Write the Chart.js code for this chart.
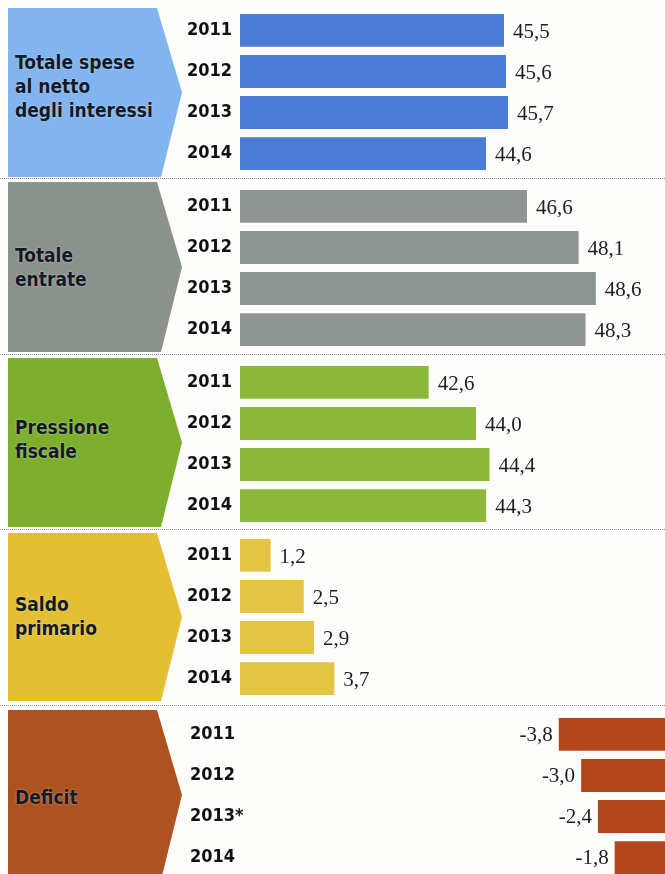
<!DOCTYPE html>
<html><head><meta charset="utf-8">
<script src="https://cdn.jsdelivr.net/npm/chart.js@4.4.1/dist/chart.umd.min.js"></script>
<style>
html,body{margin:0;padding:0;background:#fff;}
#wrap{position:relative;width:665px;height:874px;overflow:hidden;background:#fdfdfb;}
.block{position:absolute;left:8px;width:174px;clip-path:polygon(0 0,149px 0,174px 50%,153px 100%,0 100%);}
.blabel{position:absolute;left:15px;font-family:"DejaVu Sans Condensed","Liberation Sans Narrow",sans-serif;font-weight:bold;font-size:19px;line-height:24px;color:#141926;text-shadow:0 0 2px rgba(255,255,255,.55);}
.sep{position:absolute;left:0;width:665px;height:0;border-top:1.5px dotted #8f8f8f;}
canvas{position:absolute;}
</style></head>
<body>
<div id="wrap">
  <div class="block" style="top:8px;height:169px;background:#82b4f0;"></div>
  <div class="blabel" style="top:50px;">Totale spese<br>al netto<br>degli interessi</div>
  <div class="sep" style="top:178px;"></div>

  <div class="block" style="top:182px;height:170px;background:#8b928d;"></div>
  <div class="blabel" style="top:243px;">Totale<br>entrate</div>
  <div class="sep" style="top:354px;"></div>

  <div class="block" style="top:358px;height:169px;background:#7eae2e;"></div>
  <div class="blabel" style="top:415px;">Pressione<br>fiscale</div>
  <div class="sep" style="top:529px;"></div>

  <div class="block" style="top:533px;height:168px;background:#e4bf33;"></div>
  <div class="blabel" style="top:592px;">Saldo<br>primario</div>
  <div class="sep" style="top:705px;"></div>

  <div class="block" style="top:710px;height:170px;background:#ae5222;"></div>
  <div class="blabel" style="top:785px;">Deficit</div>

  <canvas id="c1" width="478" height="186" style="left:187px;top:-1px;"></canvas>
  <canvas id="c2" width="478" height="186" style="left:187px;top:175px;"></canvas>
  <canvas id="c3" width="478" height="186" style="left:187px;top:351px;"></canvas>
  <canvas id="c4" width="478" height="186" style="left:187px;top:524px;"></canvas>
  <canvas id="c5" width="475" height="186" style="left:190px;top:703px;"></canvas>
</div>
<script>
// ---- data ----
const years = ['2011', '2012', '2013', '2014'];
const yearsDeficit = ['2011', '2012', '2013*', '2014'];
const speseNettoInteressi = [45.5, 45.6, 45.7, 44.6];
const totaleEntrate = [46.6, 48.1, 48.6, 48.3];
const pressioneFiscale = [42.6, 44.0, 44.4, 44.3];
const saldoPrimario = [1.2, 2.5, 2.9, 3.7];
const deficit = [-3.8, -3.0, -2.4, -1.8];

const SANS = '"DejaVu Sans Condensed","Liberation Sans Narrow",sans-serif';
const SERIF = '"Liberation Serif","DejaVu Serif",serif';

const valueLabels = {
  id: 'valueLabels',
  afterDatasetsDraw(chart) {
    const ctx = chart.ctx;
    const meta = chart.getDatasetMeta(0);
    const data = chart.data.datasets[0].data;
    ctx.save();
    ctx.font = '21px ' + SERIF;
    ctx.fillStyle = '#1e1e1e';
    ctx.textBaseline = 'middle';
    meta.data.forEach((bar, i) => {
      const v = data[i];
      const txt = v.toFixed(1).replace('.', ',');
      if (v < 0) {
        ctx.textAlign = 'right';
        ctx.fillText(txt, bar.x - 6, bar.y + 1);
      } else {
        ctx.textAlign = 'left';
        ctx.fillText(txt, bar.x + 9, bar.y + 2);
      }
    });
    ctx.restore();
  }
};

function makeChart(id, labels, values, color, xmin, xmax, axisW) {
  new Chart(document.getElementById(id), {
    type: 'bar',
    data: {
      labels: labels,
      datasets: [{ data: values, backgroundColor: color, borderWidth: 0,
                   barPercentage: 0.8, categoryPercentage: 1 }]
    },
    options: {
      indexAxis: 'y',
      responsive: false,
      animation: false,
      layout: { padding: 0 },
      plugins: { legend: { display: false }, tooltip: { enabled: false } },
      scales: {
        x: { display: false, min: xmin, max: xmax },
        y: {
          grid: { display: false }, border: { display: false },
          afterFit(s) { s.width = axisW; },
          ticks: { crossAlign: 'far', padding: 0, color: '#111',
                   font: { family: SANS, weight: 'bold', size: 18 } }
        }
      }
    },
    plugins: [valueLabels]
  });
}

makeChart('c1', years, speseNettoInteressi, '#4b7bd4', 32.3, 53.55, 53);
makeChart('c2', years, totaleEntrate, '#8e9491', 38.26, 50.61, 53);
makeChart('c3', years, pressioneFiscale, '#8cb93b', 37.02, 49.59, 53);
makeChart('c4', years, saldoPrimario, '#e3c444', 0, 16.67, 53);
makeChart('c5', yearsDeficit, deficit, '#b2461d', -14.7, 0, 64);
</script>
</body></html>
